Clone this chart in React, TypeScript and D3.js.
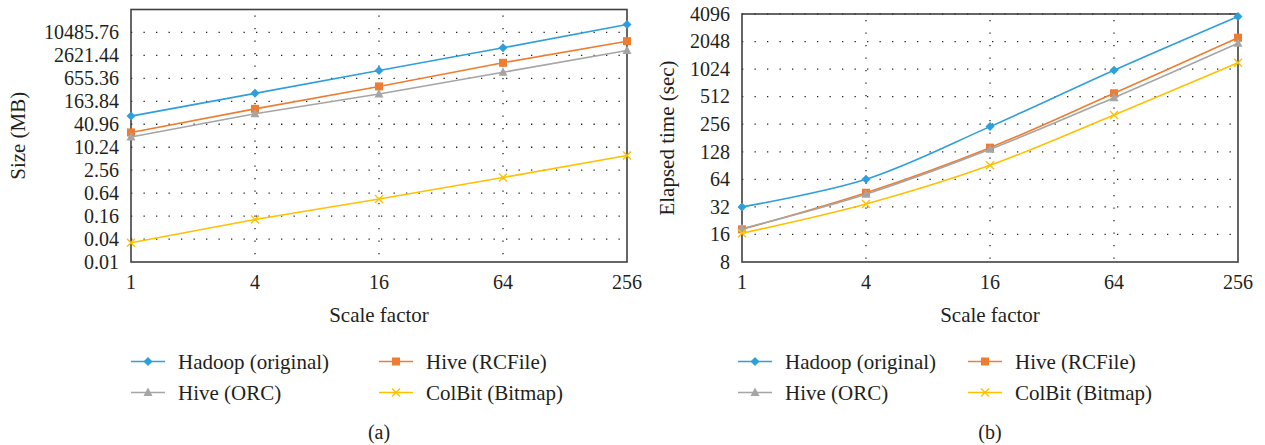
import * as React from 'react';
import * as d3 from 'd3';

const scaleFactors = [1, 4, 16, 64, 256];
const seriesNames = ['Hadoop (original)', 'Hive (RCFile)', 'Hive (ORC)', 'ColBit (Bitmap)'];

// (a) size in MB
const sizeHadoop = [67, 265, 1050, 4150, 17000];
const sizeRCFile = [25, 104, 403, 1680, 6190];
const sizeORC = [19, 77, 256, 950, 3510];
const sizeColBit = [0.032, 0.13, 0.45, 1.64, 6.2];

// (b) elapsed time in sec
const timeHadoop = [32, 64, 241, 996, 3850];
const timeRCFile = [18.2, 45.7, 142, 558, 2257];
const timeORC = [18.5, 44, 136, 499, 1960];
const timeColBit = [16.5, 34.4, 91, 323, 1203];

const sizeTicks = [0.01, 0.04, 0.16, 0.64, 2.56, 10.24, 40.96, 163.84, 655.36, 2621.44, 10485.76];
const sizeTickLabels = ['0.01', '0.04', '0.16', '0.64', '2.56', '10.24', '40.96', '163.84', '655.36', '2621.44', '10485.76'];
const timeTicks = [8, 16, 32, 64, 128, 256, 512, 1024, 2048, 4096];

const colors = ['#2E9FDA', '#ED7D31', '#A5A5A5', '#FFC000'];
const markers = ['diamond', 'square', 'triangle', 'cross'];

const FONT = "'Liberation Serif', serif";
const TEXT = '#231f20';
const txt = { fontFamily: FONT, fontSize: '20px', fill: TEXT };
const labelTxt = { ...txt, fontSize: '21px' };

function Marker({ type, x, y, color }) {
    if (type === 'diamond') {
        return <path d={`M${x},${y - 4.5}L${x + 4.5},${y}L${x},${y + 4.5}L${x - 4.5},${y}Z`} fill={color} />;
    }
    if (type === 'square') {
        return <rect x={x - 4} y={y - 4} width={8} height={8} fill={color} />;
    }
    if (type === 'triangle') {
        return <path d={`M${x},${y - 5}L${x + 4.5},${y + 3.5}L${x - 4.5},${y + 3.5}Z`} fill={color} />;
    }
    return <path d={`M${x - 4},${y - 4}L${x + 4},${y + 4}M${x + 4},${y - 4}L${x - 4},${y + 4}`} stroke={color} strokeWidth={1.4} />;
}

function Panel({ left, right, top, bottom, yDomain, yTicks, yLabels, yTitle, yTitleX, series, smooth, legendX, colOffset, caption }) {
    const x = d3.scaleLog().base(2).domain([1, 256]).range([left, right]);
    const y = d3.scaleLog().domain(yDomain).range([bottom, top]);
    const line = d3.line<number>()
        .x((d, i) => x(scaleFactors[i]))
        .y(d => y(d));
    if (smooth) line.curve(d3.curveCatmullRom.alpha(0.5));
    const cx = (left + right) / 2;
    const legendRows = [361.5, 392.5];
    return (
        <g>
            {/* grid */}
            {yTicks.slice(1).map(t => (
                <line key={'h' + t} x1={left} x2={right} y1={y(t)} y2={y(t)}
                      stroke="#222" strokeWidth={1.3} strokeDasharray="1.3,11.2" />
            ))}
            {scaleFactors.slice(1, -1).map(t => (
                <line key={'v' + t} x1={x(t)} x2={x(t)} y1={top} y2={bottom}
                      stroke="#222" strokeWidth={1.3} strokeDasharray="1.3,11.2" strokeDashoffset={-6} />
            ))}
            <rect x={left} y={top} width={right - left} height={bottom - top} fill="none" stroke="#404040" strokeWidth={1.6} />
            {/* y ticks */}
            {yTicks.map((t, i) => (
                <text key={'yl' + t} x={left - 12} y={y(t)} dy="0.34em" textAnchor="end" style={txt}>{yLabels[i]}</text>
            ))}
            {scaleFactors.map(t => (
                <text key={'xl' + t} x={x(t)} y={bottom + 27} textAnchor="middle" style={txt}>{t}</text>
            ))}
            <text x={cx} y={322} textAnchor="middle" style={labelTxt}>Scale factor</text>
            <text transform={`translate(${yTitleX},${(top + bottom) / 2}) rotate(-90)`} textAnchor="middle" dy="0.34em"
                  style={labelTxt}>{yTitle}</text>
            {/* series */}
            {series.map((vals, si) => (
                <g key={'s' + si}>
                    <path d={line(vals)} fill="none" stroke={colors[si]} strokeWidth={1.6} />
                    {vals.map((v, i) => (
                        <Marker key={i} type={markers[si]} x={x(scaleFactors[i])} y={y(v)} color={colors[si]} />
                    ))}
                </g>
            ))}
            {/* legend */}
            {seriesNames.map((name, si) => {
                const lx = legendX + (si % 2) * colOffset;
                const ly = legendRows[Math.floor(si / 2)];
                return (
                    <g key={'lg' + si}>
                        <line x1={lx} x2={lx + 34} y1={ly} y2={ly} stroke={colors[si]} strokeWidth={1.6} />
                        <Marker type={markers[si]} x={lx + 17} y={ly} color={colors[si]} />
                        <text x={lx + 47} y={ly} dy="0.34em" style={labelTxt}>{name}</text>
                    </g>
                );
            })}
            <text x={cx} y={439} textAnchor="middle" style={txt}>{caption}</text>
        </g>
    );
}

export default function App() {
    return (
        <svg width={1265} height={445} style={{ position: 'absolute', left: 0, top: 0, background: '#fff' }}>
            <Panel left={131} right={627} top={9.5} bottom={262}
                   yDomain={[0.01, 41943.04]} yTicks={sizeTicks} yLabels={sizeTickLabels}
                   yTitle="Size (MB)" yTitleX={18} series={[sizeHadoop, sizeRCFile, sizeORC, sizeColBit]}
                   smooth={false} legendX={131} colOffset={248} caption="(a)" />
            <Panel left={742} right={1238} top={14} bottom={262}
                   yDomain={[8, 4096]} yTicks={timeTicks} yLabels={timeTicks.map(String)}
                   yTitle="Elapsed time (sec)" yTitleX={667} series={[timeHadoop, timeRCFile, timeORC, timeColBit]}
                   smooth={true} legendX={738} colOffset={230} caption="(b)" />
        </svg>
    );
}
